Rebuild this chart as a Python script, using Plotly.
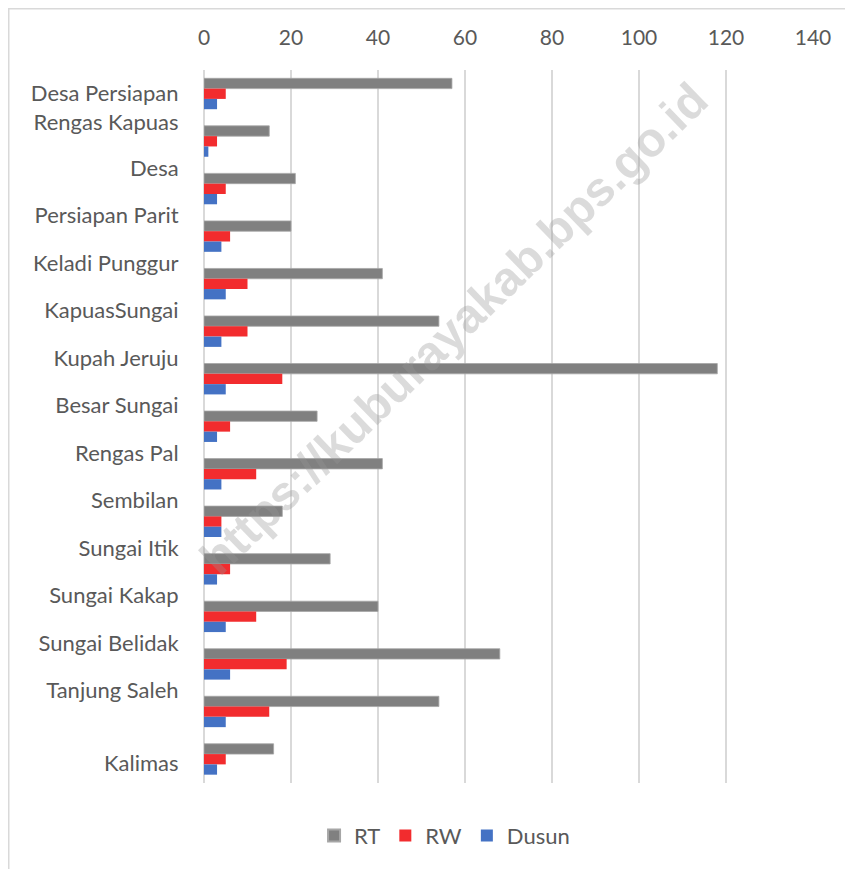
import plotly.graph_objects as go

# Tick labels as they appear on the category axis (Excel wrapped layout)
labels = ["Desa Persiapan<br>Rengas Kapuas", "Desa", "Persiapan Parit", "Keladi Punggur",
          "KapuasSungai", "Kupah Jeruju", "Besar Sungai", "Rengas Pal", "Sembilan",
          "Sungai Itik", "Sungai Kakap", "Sungai Belidak", "Tanjung Saleh", "Kalimas"]

# Bar groups, top to bottom
rt = [57, 15, 21, 20, 41, 54, 118, 26, 41, 18, 29, 40, 68, 54, 16]
rw = [5, 3, 5, 6, 10, 10, 18, 6, 12, 4, 6, 12, 19, 15, 5]
dusun = [3, 1, 3, 4, 5, 4, 5, 3, 4, 4, 3, 5, 6, 5, 3]

series_names = ["RT", "RW", "Dusun"]
x_ticks = [0, 20, 40, 60, 80, 100, 120, 140]

n = len(rt)
idx = list(range(n))

# label placement mimicking the reference's shifted labels
tick_pos = [i + 0.56 for i in range(len(labels) - 1)]
tick_pos[0] -= 0.26
tick_pos.append(n - 1 + 0.08)

colors = ["#808080", "#F22C2E", "#4472C4"]
font_family = "Lato, 'Open Sans', sans-serif"
txt_col = "#595959"

fig = go.Figure()
for name, vals, col in zip(series_names, [rt, rw, dusun], colors):
    fig.add_trace(go.Bar(
        y=idx, x=vals, name=name, orientation="h",
        marker=dict(color=col, line=dict(width=0.8 if name == "RT" else 0,
                                         color="#a6a6a6")),
    ))

fig.update_layout(
    width=853, height=869,
    margin=dict(l=196, r=48, t=62, b=94),
    paper_bgcolor="white", plot_bgcolor="white",
    barmode="group", bargap=0.35, bargroupgap=0,
    font=dict(family=font_family, size=22, color=txt_col),
    showlegend=True,
    legend=dict(orientation="h", x=0.395, xanchor="center", y=-0.074, yanchor="middle",
                font=dict(size=22, color=txt_col), itemsizing="constant",
                traceorder="normal"),
    xaxis=dict(side="top", range=[0, 140], tickvals=x_ticks, showgrid=True,
               gridcolor="#d9d9d9", gridwidth=1.5, zeroline=True,
               zerolinecolor="#d9d9d9", zerolinewidth=1.5, showline=False,
               ticks="outside", ticklen=16, tickcolor="rgba(0,0,0,0)",
               tickfont=dict(size=21, color=txt_col), fixedrange=True),
    yaxis=dict(range=[n - 0.5, -0.5], tickvals=tick_pos, ticktext=labels,
               showgrid=False, zeroline=False, showline=False,
               ticks="outside", ticklen=20, tickcolor="rgba(0,0,0,0)",
               tickfont=dict(size=22, color=txt_col), fixedrange=True),
    shapes=[dict(type="rect", xref="paper", yref="paper",
                 x0=-0.3206, x1=1.3, y0=-0.3, y1=1.0858,
                 line=dict(color="#d9d9d9", width=1.5), fillcolor="rgba(0,0,0,0)",
                 layer="below")],
    annotations=[dict(text="<b>https://kuburayakab.bps.go.id</b>", xref="paper", yref="paper",
                      x=0.41, y=0.638, showarrow=False, textangle=-44,
                      font=dict(family="Liberation Sans, Arial, sans-serif", size=48,
                                color="rgba(150,150,150,0.34)"))],
)

fig.write_html("out.html")
